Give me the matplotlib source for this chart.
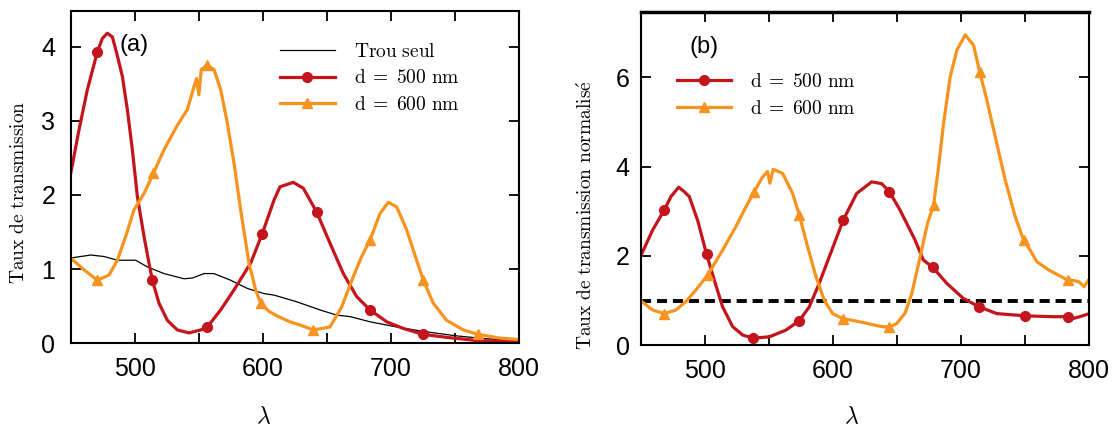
import matplotlib
matplotlib.use("Agg")
import matplotlib.pyplot as plt
from matplotlib.ticker import MultipleLocator, FuncFormatter

plt.rcParams['mathtext.fontset'] = 'cm'
plt.rcParams['font.family'] = ['Liberation Sans', 'DejaVu Sans']

ROUGE = "#c4141c"
ORANGE = "#f7931e"

# ---- Panneau (a) : taux de transmission ----
lam_a_500 = [450, 456.5, 463, 470.8, 474.7, 478.6, 482.5, 485.9, 490.3, 494.2, 498.1, 502, 507.2,
             511.1, 513.7, 518.9, 525.4, 533.2, 542.3, 551.4, 556.6, 567, 577.4, 590.4, 599.5, 608.6,
             613.3, 623.7, 631.5, 641.9, 652.3, 662.7, 673.1, 683.5, 696.5, 709.5, 725.1, 743.3, 768,
             785, 800]
t_a_500 = [2.29, 2.88, 3.42, 3.93, 4.11, 4.18, 4.13, 3.91, 3.60, 3.15, 2.61, 1.98, 1.44,
           1.08, 0.85, 0.54, 0.31, 0.18, 0.14, 0.18, 0.22, 0.45, 0.72, 1.08, 1.48, 1.93,
           2.11, 2.17, 2.09, 1.77, 1.35, 0.94, 0.63, 0.45, 0.29, 0.20, 0.12, 0.08, 0.036,
           0.03, 0.02]
mk_a_500 = [470.8, 513.7, 556.6, 599.5, 641.9, 683.5, 725.1, 768]

lam_a_600 = [450, 460.4, 470.8, 479.9, 486.4, 492.9, 499.4, 507.2, 514.5, 522.8, 533.2, 541, 546.2,
             548.2, 550, 551.9, 556.6, 561.8, 567, 572.2, 577.4, 582.6, 589.1, 594.3, 598.2, 604.7,
             612, 621.1, 630, 639.3, 652.3, 661.4, 670.5, 677, 683.5, 691.3, 697.8, 704.3, 712.1,
             719.9, 725.1, 732.9, 743.3, 756.3, 768, 785, 800]
t_a_600 = [1.15, 0.99, 0.85, 0.92, 1.12, 1.44, 1.80, 2.02, 2.29, 2.61, 2.94, 3.15, 3.46,
           3.57, 3.35, 3.69, 3.75, 3.69, 3.42, 2.97, 2.43, 1.80, 1.08, 0.72, 0.54, 0.43,
           0.36, 0.29, 0.24, 0.18, 0.22, 0.49, 0.90, 1.17, 1.39, 1.75, 1.90, 1.84, 1.53,
           1.12, 0.85, 0.54, 0.31, 0.18, 0.12, 0.07, 0.05]
mk_a_600 = [470.8, 514.5, 556.6, 598.2, 639.3, 683.5, 725.1, 768]

lam_trou = [450, 465.6, 476, 486.4, 500.7, 509.8, 522.8, 538.4, 544.9, 554, 561.8, 574.8, 587.8,
            600.8, 608.6, 626.3, 644.5, 657.5, 667.9, 683.5, 704.3, 725.1, 751.1, 771.9, 800]
t_trou = [1.15, 1.19, 1.17, 1.12, 1.12, 1.03, 0.94, 0.87, 0.88, 0.94, 0.94, 0.85, 0.74,
          0.67, 0.65, 0.56, 0.45, 0.38, 0.36, 0.29, 0.22, 0.16, 0.10, 0.065, 0.03]

# ---- Panneau (b) : taux de transmission normalise ----
lam_b_500 = [450, 459.3, 468.4, 473.6, 479.6, 484, 487.9, 494.4, 501.4, 507.4, 513.9, 521.7, 529.5,
             537.8, 550.3, 563.3, 573.7, 581.5, 589.3, 597.1, 608.1, 618.5, 630.2, 638, 644, 652.3,
             664, 670.5, 677.8, 688.7, 701.7, 714.2, 727.8, 749.9, 772, 783.1, 787.3, 792.5, 800]
t_b_500 = [2.0, 2.58, 3.03, 3.33, 3.54, 3.44, 3.33, 2.80, 2.04, 1.46, 0.86, 0.42, 0.23,
           0.16, 0.19, 0.34, 0.55, 0.86, 1.39, 1.98, 2.81, 3.40, 3.66, 3.62, 3.44, 3.03,
           2.36, 1.91, 1.75, 1.39, 1.05, 0.86, 0.71, 0.66, 0.64, 0.64, 0.60, 0.64, 0.71]
mk_b_500 = [468.4, 501.4, 537.8, 573.7, 608.1, 644, 677.8, 714.2, 749.9, 783.1]

lam_b_600 = [450, 459.3, 468.4, 477.5, 485.3, 493.1, 502.2, 513.9, 524.3, 532.1, 538.6, 545.1, 549,
             550.8, 553.4, 560.7, 568.5, 573.7, 580.2, 586.7, 593.2, 599.7, 607.5, 622, 636, 644,
             649.8, 656.3, 661.5, 668, 673.8, 678.5, 682.4, 686.3, 691.5, 696.7, 703.2, 709.7,
             714.4, 720.1, 726.6, 734.4, 742.2, 748.7, 753.9, 759.1, 768.2, 776, 783.1, 788, 792,
             796, 800]
t_b_600 = [1.0, 0.79, 0.71, 0.79, 0.98, 1.24, 1.57, 2.13, 2.66, 3.10, 3.44, 3.77, 3.89,
           3.63, 3.94, 3.85, 3.40, 2.92, 2.21, 1.54, 1.01, 0.71, 0.60, 0.52, 0.43, 0.40,
           0.49, 0.72, 1.16, 1.98, 2.73, 3.14, 4.0, 4.97, 6.02, 6.61, 6.95, 6.72,
           6.13, 5.49, 4.67, 3.70, 2.88, 2.36, 2.13, 1.87, 1.69, 1.57, 1.46, 1.45, 1.42,
           1.31, 1.49]
mk_b_600 = [468.4, 502.2, 538.6, 573.7, 607.5, 644, 678.5, 714.4, 748.7, 783.1]

niveau_ref = 1.0

lab_trou = r'$\mathrm{Trou\ seul}$'
lab_500 = r'$\mathrm{d}\;=\;\mathrm{500\ nm}$'
lab_600 = r'$\mathrm{d}\;=\;\mathrm{600\ nm}$'


def indices(xs, marques):
    return [xs.index(m) for m in marques]


def style_axes(ax, ymax, ystep, ypad):
    ax.set_xlim(450, 800)
    ax.set_ylim(0, ymax)
    ax.xaxis.set_major_locator(MultipleLocator(50))
    ax.xaxis.set_major_formatter(FuncFormatter(lambda v, p: f"{v:.0f}" if v % 100 == 0 else ""))
    ax.yaxis.set_major_locator(MultipleLocator(ystep))
    ax.tick_params(direction='in', length=7, width=1.3, top=True, right=True, labelsize=18)
    ax.tick_params(axis='x', pad=10)
    ax.tick_params(axis='y', pad=ypad)
    for s in ax.spines.values():
        s.set_linewidth(1.5)


kw = dict(lw=2.3, ms=7, solid_joinstyle='round')

fig = plt.figure(figsize=(11.15, 4.32), dpi=100)

ax1 = fig.add_axes([70.7 / 1115, 88.7 / 432, 448.6 / 1115, 332.3 / 432])
ax1.plot(lam_trou, t_trou, color='black', lw=0.9, label=lab_trou)
ax1.plot(lam_a_500, t_a_500, color=ROUGE, marker='o',
         markevery=indices(lam_a_500, mk_a_500), label=lab_500, **kw)
ax1.plot(lam_a_600, t_a_600, color=ORANGE, marker='^',
         markevery=indices(lam_a_600, mk_a_600), label=lab_600, **kw)
style_axes(ax1, 4.48, 1, 11)
ax1.text(0.108, 0.898, "(a)", transform=ax1.transAxes, fontsize=17, va='center', ha='left')
ax1.legend(loc='upper left', bbox_to_anchor=(0.467, 0.905), frameon=False, fontsize=14,
           handlelength=2.8, handletextpad=1.0, labelspacing=0.45, borderpad=0, borderaxespad=0)

ax2 = fig.add_axes([640.7 / 1115, 86.7 / 432, 448.6 / 1115, 333.6 / 432])
ax2.axhline(niveau_ref, color='black', lw=2.8, ls=(0, (2.6, 1.5)))
ax2.plot(lam_b_500, t_b_500, color=ROUGE, marker='o',
         markevery=indices(lam_b_500, mk_b_500), label=lab_500, **kw)
ax2.plot(lam_b_600, t_b_600, color=ORANGE, marker='^',
         markevery=indices(lam_b_600, mk_b_600), label=lab_600, **kw)
style_axes(ax2, 7.47, 2, 8)
ax2.spines['top'].set_linewidth(2.5)
ax2.text(0.108, 0.893, "(b)", transform=ax2.transAxes, fontsize=17, va='center', ha='left')
ax2.legend(loc='upper left', bbox_to_anchor=(0.080, 0.816), frameon=False, fontsize=14,
           handlelength=2.8, handletextpad=1.0, labelspacing=0.45, borderpad=0, borderaxespad=0)

fig.text(18.6 / 1115, 1 - 192.5 / 432, r'$\mathrm{Taux\ de\ transmission}$', rotation=90,
         fontsize=14, ha='center', va='center')
fig.text(586.5 / 1115, 1 - 215 / 432, r'$\mathrm{Taux\ de\ transmission\ normalis\acute{e}}$',
         rotation=90, fontsize=14, ha='center', va='center')
fig.text(264 / 1115, 1 - 417 / 432, r'$\lambda$', fontsize=17, ha='center', va='center')
fig.text(852 / 1115, 1 - 417 / 432, r'$\lambda$', fontsize=17, ha='center', va='center')

fig.savefig("out.png", dpi=100)
